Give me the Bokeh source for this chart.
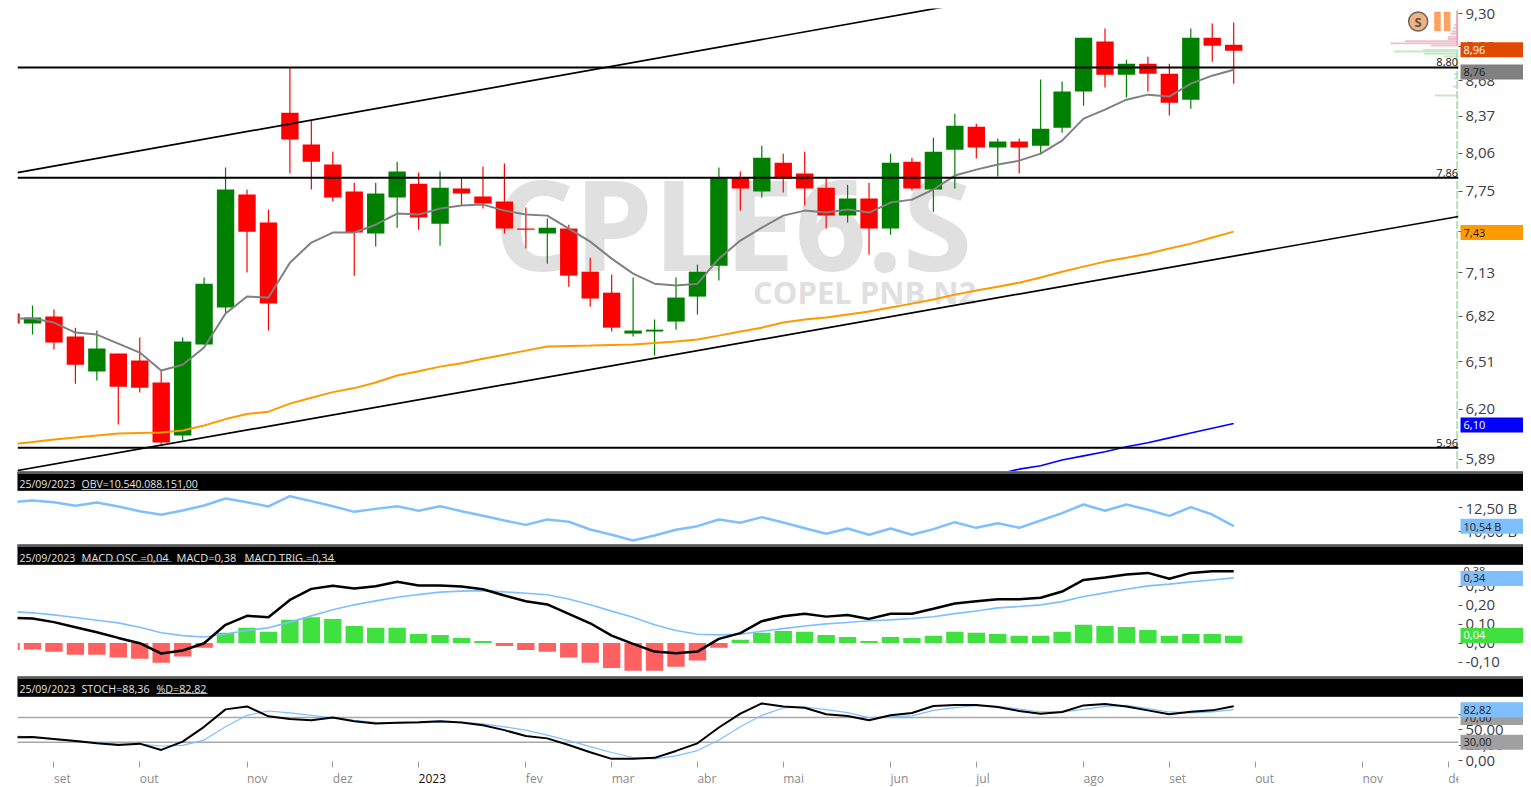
from bokeh.plotting import figure
from bokeh.models import Range1d, FixedTicker, Label
from bokeh.layouts import column, row
from bokeh.embed import file_html
from bokeh.resources import INLINE
from bokeh.core.properties import value

# ---- weekly candles, first one (index -1) is cut by the left edge
opens = [6.838, 6.768, 6.817, 6.679, 6.443, 6.563, 6.516, 6.371, 6.035, 6.624, 6.880, 7.725, 7.506, 8.401, 8.131, 7.966, 7.749, 7.422, 7.701, 7.812, 7.498, 7.773, 7.709, 7.670, 7.460, 7.422, 7.460, 7.138, 6.986, 6.699, 6.713, 6.782, 6.958, 7.182, 7.861, 7.749, 7.982, 7.893, 7.780, 7.560, 7.693, 7.460, 7.990, 7.765, 8.089, 8.282, 8.106, 8.156, 8.122, 8.273, 8.585, 9.036, 8.735, 8.834, 8.744, 8.514, 9.073, 9.008]
highs = [6.838, 6.894, 6.866, 6.740, 6.720, 6.563, 6.672, 6.450, 6.672, 7.095, 7.942, 7.765, 7.607, 8.798, 8.333, 8.072, 7.820, 7.820, 7.990, 7.901, 7.909, 7.861, 7.950, 7.974, 7.623, 7.537, 7.490, 7.241, 7.117, 7.095, 6.796, 7.095, 7.190, 7.942, 7.909, 8.122, 8.056, 8.072, 7.853, 7.804, 7.820, 8.056, 8.023, 8.189, 8.393, 8.307, 8.181, 8.181, 8.691, 8.673, 9.073, 9.158, 8.870, 8.897, 8.834, 9.158, 9.205, 9.214]
lows = [6.768, 6.692, 6.590, 6.364, 6.384, 6.103, 6.306, 5.979, 6.004, 6.624, 6.838, 7.131, 6.720, 7.893, 7.765, 7.670, 7.109, 7.324, 7.467, 7.452, 7.331, 7.638, 7.615, 7.422, 7.309, 7.197, 7.029, 6.887, 6.713, 6.679, 6.550, 6.726, 6.831, 7.073, 7.599, 7.701, 7.741, 7.638, 7.460, 7.506, 7.264, 7.414, 7.757, 7.591, 7.773, 8.015, 7.869, 7.893, 8.048, 8.231, 8.462, 8.620, 8.532, 8.585, 8.376, 8.436, 8.852, 8.655]
closes = [6.768, 6.810, 6.638, 6.489, 6.597, 6.344, 6.338, 5.991, 6.645, 7.051, 7.765, 7.437, 6.908, 8.173, 7.990, 7.701, 7.430, 7.733, 7.909, 7.545, 7.780, 7.733, 7.654, 7.460, 7.452, 7.467, 7.109, 6.944, 6.740, 6.720, 6.726, 6.951, 7.138, 7.861, 7.773, 8.023, 7.853, 7.773, 7.560, 7.693, 7.460, 7.982, 7.773, 8.072, 8.290, 8.106, 8.156, 8.106, 8.265, 8.585, 9.073, 8.735, 8.834, 8.744, 8.488, 9.073, 8.998, 8.952]
sma_short = [6.803, 6.803, 6.775, 6.706, 6.692, 6.631, 6.570, 6.450, 6.489, 6.604, 6.838, 6.958, 6.951, 7.204, 7.354, 7.430, 7.430, 7.490, 7.576, 7.568, 7.615, 7.638, 7.646, 7.599, 7.568, 7.560, 7.460, 7.361, 7.234, 7.124, 7.051, 7.037, 7.051, 7.234, 7.369, 7.467, 7.560, 7.599, 7.584, 7.607, 7.584, 7.662, 7.685, 7.765, 7.877, 7.925, 7.966, 7.998, 8.056, 8.164, 8.350, 8.427, 8.514, 8.558, 8.541, 8.655, 8.726, 8.779]
sma_long = [5.979, 5.994, 6.010, 6.022, 6.035, 6.047, 6.050, 6.053, 6.066, 6.097, 6.137, 6.169, 6.184, 6.235, 6.273, 6.309, 6.335, 6.371, 6.417, 6.446, 6.476, 6.499, 6.529, 6.556, 6.583, 6.611, 6.614, 6.617, 6.621, 6.624, 6.634, 6.645, 6.658, 6.685, 6.713, 6.740, 6.775, 6.796, 6.810, 6.831, 6.852, 6.880, 6.908, 6.937, 6.972, 7.001, 7.029, 7.058, 7.095, 7.138, 7.175, 7.212, 7.241, 7.271, 7.309, 7.346, 7.392, 7.437]
sma_200_x = [45, 46, 47, 48, 49, 50, 51, 52, 53, 54, 55, 56]
sma_200 = [5.80, 5.83, 5.85, 5.885, 5.91, 5.935, 5.965, 5.99, 6.02, 6.05, 6.08, 6.109]
support_levels = [8.80, 7.86, 5.96]
channel_upper_x = [-0.7, 45.1]
channel_upper_y = [7.901, 9.459]
channel_lower_x = [-0.7, 66.48]
channel_lower_y = [5.822, 7.553]
vap_up_price = [9.24, 9.19, 9.16, 9.13, 9.11, 9.08, 9.06, 9.04, 9.02, 9.00]
vap_up_size = [0.1, 0.2, 0.25, 0.3, 0.4, 0.5, 0.5, 2.5, 3.17, 1.3]
vap_dn_price = [8.96, 8.945, 8.925, 8.90, 8.865, 8.79, 8.74, 8.70, 8.63, 8.55, 8.48, 8.39]
vap_dn_size = [1.65, 3.0, 1.6, 0.7, 0.15, 0.1, 0.2, 0.2, 0.25, 1.1, 0.1, 0.1]

obv = [13.12, 13.30, 13.12, 12.73, 13.085, 12.655, 12.15, 11.76, 12.225, 12.76, 13.515, 13.12, 12.655, 13.765, 13.23, 12.69, 12.08, 12.40, 12.69, 12.19, 12.69, 12.15, 11.65, 11.15, 10.68, 11.26, 11.01, 10.18, 9.61, 9.00, 9.54, 10.15, 10.54, 11.26, 10.90, 11.51, 10.93, 10.325, 9.72, 10.29, 9.61, 10.29, 9.61, 10.22, 10.97, 10.36, 10.86, 10.36, 11.15, 11.94, 12.87, 12.19, 12.87, 12.30, 11.65, 12.58, 11.79, 10.54]

macd_osc = [-.036, -.034, -.046, -.062, -.062, -.076, -.083, -.104, -.071, -.025, .054, .080, .059, .122, .136, .127, .090, .080, .080, .048, .043, .027, .011, -.015, -.036, -.046, -.076, -.104, -.131, -.146, -.146, -.125, -.092, -.025, .017, .054, .064, .059, .043, .032, .011, .032, .027, .038, .059, .054, .048, .038, .038, .059, .096, .090, .085, .069, .038, .048, .048, .038]
macd_line = [.132, .129, .110, .083, .057, .027, -.001, -.055, -.039, -.001, .096, .143, .136, .227, .285, .301, .287, .299, .322, .303, .303, .297, .283, .250, .220, .203, .154, .104, .039, -.004, -.045, -.054, -.045, .022, .052, .115, .141, .154, .139, .148, .127, .154, .154, .180, .208, .220, .231, .231, .238, .271, .332, .345, .361, .369, .338, .369, .378, .378]
macd_trig = [.166, .159, .148, .134, .120, .106, .083, .054, .039, .032, .048, .066, .080, .110, .143, .175, .201, .222, .241, .255, .268, .273, .276, .269, .262, .254, .232, .201, .168, .136, .096, .066, .046, .043, .046, .062, .076, .090, .101, .108, .117, .122, .129, .138, .155, .169, .185, .192, .201, .218, .245, .264, .283, .301, .310, .322, .332, .343]

stoch_k = [38.0, 38.5, 35.3, 32.1, 28.4, 25.7, 27.9, 17.7, 31.1, 55.1, 83.3, 88.1, 72.1, 67.9, 65.7, 70.0, 64.1, 60.4, 61.5, 62.5, 64.1, 62.0, 57.7, 49.7, 40.1, 36.4, 25.7, 14.0, 3.3, 3.3, 4.9, 16.1, 28.4, 54.0, 76.4, 92.9, 88.1, 86.0, 75.3, 72.7, 65.7, 73.7, 77.5, 88.7, 90.3, 90.3, 87.1, 80.7, 76.4, 79.1, 89.7, 91.9, 88.1, 81.7, 75.3, 79.6, 81.7, 88.36]
stoch_d = [40.7, 38.0, 34.8, 32.7, 29.5, 27.3, 27.3, 24.1, 25.2, 33.7, 55.1, 73.7, 80.7, 77.5, 73.7, 69.5, 65.7, 62.5, 61.5, 61.5, 62.5, 62.5, 59.9, 55.1, 49.7, 41.7, 32.7, 23.1, 13.5, 5.5, 3.3, 8.1, 16.7, 33.7, 55.1, 73.7, 85.5, 87.1, 82.8, 78.0, 70.0, 71.1, 72.7, 81.7, 86.0, 89.2, 88.1, 83.9, 79.1, 79.1, 83.3, 88.1, 89.7, 84.4, 79.1, 77.5, 79.1, 82.82]

month_idx = [1, 5, 10, 14, 18, 23, 27, 31, 35, 40, 44, 49, 53, 57, 62, 66]
month_lbl = ["set", "out", "nov", "dez", "2023", "fev", "mar", "abr", "mai", "jun", "jul", "ago", "set", "out", "nov", "dez"]
price_ticks = [9.30, 8.99, 8.68, 8.37, 8.06, 7.75, 7.44, 7.13, 6.82, 6.51, 6.20, 5.89]
price_lbl = ["9,30", "8,99", "8,68", "8,37", "8,06", "7,75", "7,44", "7,13", "6,82", "6,51", "6,20", "5,89"]
obv_ticks = [12.5, 10]
obv_lbl = ["12,50 B", "10,00 B"]
macd_ticks = [0.3, 0.2, 0.1, 0, -0.1]
macd_lbl = ["0,30", "0,20", "0,10", "0,00", "-0,10"]
stoch_ticks = [75, 50, 25, 0]
stoch_lbl = ["75,00", "50,00", "25,00", "0,00"]

# last-value tags on the right of each pane: value, text, fill, text colour
main_tags = [(8.96, "8,96", "#e04a00", "white"), (8.76, "8,76", "#808080", "#222222"),
             (7.43, "7,43", "#ff9900", "#222222"), (6.10, "6,10", "#0000ff", "white")]
obv_tags = [(10.54, "10,54 B", "#80bfff", "#222222")]
macd_tags = [(0.34, "0,34", "#80bfff", "#222222"), (0.04, "0,04", "#40e040", "white")]
stoch_tags = [(70, "70,00", "#a0a0a0", "#222222"), (30, "30,00", "#a0a0a0", "#222222"),
              (82.82, "82,82", "#80bfff", "#222222")]

for s in (opens, highs, lows, closes, sma_short, sma_long, obv, macd_osc, macd_line, macd_trig, stoch_k, stoch_d):
    assert len(s) == 58, len(s)

FONT = "Open Sans"
X0, X1 = -0.6993, 66.48
FRAME_L, FRAME_R = 17, 1458
TOTAL_W = 1523
RIGHT_W = TOTAL_W - FRAME_R
idx = list(range(-1, 57))


def pane(h, y_range, ticks, labels, top=0, bottom=0, log=False):
    p = figure(width=TOTAL_W, height=h, output_backend="svg", toolbar_location=None,
               x_range=Range1d(X0, X1), y_range=y_range, y_axis_location="right",
               x_axis_location="below" if bottom else None,
               y_axis_type="log" if log else "linear",
               min_border_left=FRAME_L, min_border_right=RIGHT_W,
               min_border_top=top, min_border_bottom=bottom)
    p.outline_line_color = None
    p.grid.visible = False
    p.background_fill_color = "white"
    ax = p.yaxis[0]
    ax.ticker = FixedTicker(ticks=ticks)
    ax.major_label_overrides = dict(zip(ticks, labels))
    ax.axis_line_color = None
    ax.major_tick_line_color = "#555555"
    ax.major_tick_in = 0
    ax.major_tick_out = 4
    ax.minor_tick_line_color = None
    ax.major_label_standoff = 3
    ax.major_label_text_font = FONT
    ax.major_label_text_font_size = "15px"
    ax.major_label_text_color = "#3c4048"
    return p


def tags(h, y_range, items, top=0, bottom=0, log=False, plain=None):
    """Transparent strip laid over the right margin, sharing the pane's y range."""
    p = figure(width=RIGHT_W, height=h, output_backend="svg", toolbar_location=None,
               x_range=Range1d(0, RIGHT_W), y_range=y_range, x_axis_location=None, y_axis_location=None,
               y_axis_type="log" if log else "linear",
               min_border_left=0, min_border_right=0, min_border_top=top, min_border_bottom=bottom,
               frame_align=False, margin=(0, 0, 0, -RIGHT_W))
    p.outline_line_color = None
    p.grid.visible = False
    p.background_fill_color = None
    p.border_fill_color = None
    if plain:
        p.text([5], [plain[0]], text=[plain[1]], text_font=value(FONT), text_font_size="11px",
               text_color="#333333", text_baseline="middle")
    for v, txt, fill, col in items:
        p.rect([33.5], [v], width=[63], height=[15], height_units="screen", color=fill, line_color=None)
        p.text([5], [v], text=[txt], text_font=value(FONT), text_font_size="11px",
               text_color=col, text_baseline="middle")
    return p


# ---- main pane
main_y = Range1d(5.816, 9.348)
main = pane(471, main_y, price_ticks, price_lbl, top=8, log=True)
main.add_layout(Label(x=21.5, y=7.51, text="CPLE6.S", text_font=FONT, text_font_style="bold",
                      text_font_size="126px", text_color="#e0e0e0", text_baseline="middle",
                      level="underlay"))
main.add_layout(Label(x=44, y=6.99, text="COPEL PNB N2", text_font=FONT, text_font_style="bold",
                      text_font_size="31px", text_color="#e0e0e0", text_baseline="middle",
                      text_align="right", level="underlay"))

RIGHT_EDGE = X1
main.hbar(y=vap_up_price, left=[RIGHT_EDGE - s for s in vap_up_size], right=RIGHT_EDGE, height=0.018,
          color="#eec0cc", line_color=None)
main.hbar(y=vap_dn_price, left=[RIGHT_EDGE - s for s in vap_dn_size], right=RIGHT_EDGE, height=0.018,
          color="#c6e8c6", line_color=None)
main.segment(x0=[66.42], x1=[66.42], y0=[9.33], y1=[9.0], color="#e0a8b8", line_width=2)
main.segment(x0=[66.42], x1=[66.42], y0=[8.95], y1=[5.82], color="#b4deb4", line_width=2, line_dash="8 2")

up = [c >= o for o, c in zip(opens, closes)]
cols = ["#008000" if u else "#ff0000" for u in up]
main.segment(x0=idx, x1=idx, y0=lows, y1=highs, color=cols, line_width=1.2)
main.vbar(x=idx, top=[max(o, c) for o, c in zip(opens, closes)],
          bottom=[min(o, c) for o, c in zip(opens, closes)], width=0.81, color=cols, line_color=None)

main.line(idx, sma_short, color="#808080", line_width=2)
main.line(idx, sma_long, color="#ff9900", line_width=2)
main.line(sma_200_x, sma_200, color="#0000ff", line_width=1.6)
main.line(channel_upper_x, channel_upper_y, color="black", line_width=1.7)
main.line(channel_lower_x, channel_lower_y, color="black", line_width=1.7)
for lv in support_levels:
    main.line([X0, X1], [lv, lv], color="black", line_width=2)
    main.add_layout(Label(x=66.46, y=lv, text=f"{lv:.2f}".replace(".", ","), text_font=FONT,
                          text_font_size="11px", text_color="#111111", text_align="right",
                          text_baseline="bottom", y_offset=1))

main.scatter([64.6], [9.224], size=19, fill_color="#f4b27c", line_color="#666666", line_width=1.5)
main.add_layout(Label(x=64.6, y=9.224, text="S", text_font=FONT, text_font_style="bold", text_font_size="13px",
                      text_color="#555555", text_align="center", text_baseline="middle"))
main.scatter([65.5, 65.5, 65.5, 65.95, 65.95, 65.95], [9.285, 9.225, 9.165, 9.285, 9.225, 9.165],
             size=6.5, marker="square", fill_color="#ff9f5a", line_color=None)


# ---- black header bars
def bar(h, text_y, line_y, items):
    p = figure(width=TOTAL_W, height=h, output_backend="svg", toolbar_location=None,
               x_range=Range1d(17, 1523), y_range=Range1d(h, 0), x_axis_location=None, y_axis_location=None,
               min_border_left=17, min_border_right=0, min_border_top=0, min_border_bottom=0, frame_align=False)
    p.outline_line_color = None
    p.grid.visible = False
    p.background_fill_color = "black"
    p.border_fill_color = "white"
    p.quad(left=[17], right=[1523], top=[0], bottom=[2.5], color="#5a5a5a", line_color=None)
    p.quad(left=[17], right=[1523], top=[h - 0.8], bottom=[h], color="#aaaaaa", line_color=None)
    for x, txt, x2, col, size in items:
        p.text([x], [text_y], text=[txt], text_font=value(FONT), text_font_size=size,
               text_color="#e4e4e4", text_baseline="middle")
        if col:
            p.segment([x], [line_y], [x2], [line_y], color=col, line_width=1)
    return p


DATE = (19, "25/09/2023", 0, None, "10.5px")
bar1 = bar(20, 12, 18, [DATE, (81, "OBV=10.540.088.151,00", 198, "#80bfff", "10.5px")])
bar2 = bar(21, 13, 17, [DATE, (81, "MACD OSC.=0,04", 171, "#2e9e2e", "11px"),
                        (176, "MACD=0,38", 0, None, "11px"), (244, "MACD TRIG.=0,34", 335, "#80bfff", "11px")])
bar3 = bar(21, 12, 17, [DATE, (81, "STOCH=88,36", 0, None, "10.7px"),
                        (156, "%D=82,82", 207, "#80bfff", "10.7px")])

# ---- OBV
obv_y = Range1d(8.569, 14.267)
obv_p = pane(53, obv_y, obv_ticks, obv_lbl)
obv_p.line(idx, obv, color="#80bfff", line_width=2.5)

# ---- MACD
macd_y = Range1d(-0.176, 0.408)
macd = pane(111, macd_y, macd_ticks, macd_lbl)
macd.vbar(x=idx, top=macd_osc, bottom=0, width=0.81,
          color=["#40e040" if v >= 0 else "#ff6060" for v in macd_osc], line_color=None)
macd.line(idx, macd_trig, color="#80bfff", line_width=1.6)
macd.line(idx, macd_line, color="black", line_width=2.5)

# ---- Stochastic
stoch_y = Range1d(-1.0, 102.5)
stoch = pane(72, stoch_y, stoch_ticks, stoch_lbl, bottom=8)
for lv in (70, 30):
    stoch.line([X0, X1], [lv, lv], color="#a8a8a8", line_width=1.5)
stoch.line(idx, stoch_d, color="#80bfff", line_width=1.2)
stoch.line(idx, stoch_k, color="black", line_width=2)
xa = stoch.xaxis[0]
xa.ticker = FixedTicker(ticks=month_idx)
xa.major_label_overrides = {t: "" for t in month_idx}
xa.major_label_standoff = 0
xa.major_label_text_font_size = "1px"
xa.axis_line_color = None
xa.major_tick_in = 0
xa.major_tick_out = 6
xa.major_tick_line_color = "#999999"
xa.minor_tick_line_color = None

# ---- month names, left-aligned on their ticks
months = figure(width=TOTAL_W, height=18, output_backend="svg", toolbar_location=None,
                x_range=stoch.x_range, y_range=Range1d(18, 0), x_axis_location=None, y_axis_location=None,
                min_border_left=FRAME_L, min_border_right=RIGHT_W, min_border_top=0, min_border_bottom=0)
months.outline_line_color = None
months.grid.visible = False
months.text(month_idx, [9] * len(month_idx), text=month_lbl, text_font=value(FONT), text_font_size="12px",
            text_color=["#111111" if m == "2023" else "#8a8a8a" for m in month_lbl], text_baseline="middle")

page = column(
    row(main, tags(471, main_y, main_tags, top=8, log=True), spacing=0),
    bar1,
    row(obv_p, tags(53, obv_y, obv_tags), spacing=0),
    bar2,
    row(macd, tags(111, macd_y, macd_tags, plain=(0.38, "0,38")), spacing=0),
    bar3,
    row(stoch, tags(72, stoch_y, stoch_tags, bottom=8), spacing=0),
    months,
    spacing=0)
open("out.html", "w").write(file_html(page, INLINE))
